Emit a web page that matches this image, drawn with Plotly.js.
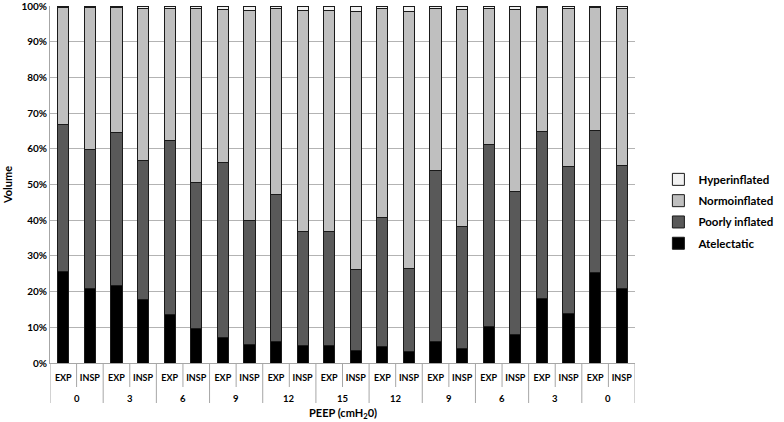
<!DOCTYPE html>
<html>
<head>
<meta charset="utf-8">
<script src="https://cdn.plot.ly/plotly-3.0.1.min.js"></script>
<style>html,body{margin:0;padding:0;background:#fff;}#chart{width:784px;height:422px;}</style>
</head>
<body>
<div id="chart"></div>
<script>
// Outer category (PEEP, cmH2O) and inner category (phase)
const peep = ["0","0","3","3","6","6","9","9","12","12","15","15",
              "12","12","9","9","6","6","3","3","0","0"];
const phase = ["EXP","INSP","EXP","INSP","EXP","INSP","EXP","INSP","EXP","INSP","EXP","INSP",
               "EXP","INSP","EXP","INSP","EXP","INSP","EXP","INSP","EXP","INSP"];

// Volume fractions (%)
const atelectatic   = [25.5,21.0,21.6,17.7,13.7,9.6,7.2,5.2,6.0,4.9,4.9,3.6,4.7,3.2,6.0,4.2,10.2,8.0,18.0,13.8,25.4,20.8];
const poorlyInflated= [41.2,38.8,43.1,39.0,48.6,40.9,49.0,34.6,41.2,31.8,31.8,22.7,36.0,23.3,47.8,33.9,50.9,40.0,46.9,41.2,39.8,34.6];
const normoinflated = [33.0,39.9,35.0,42.7,37.1,48.9,42.8,58.9,52.1,62.0,62.1,72.2,58.5,72.0,45.4,60.9,38.1,51.0,34.8,44.2,34.5,43.9];
const hyperinflated = [0.3,0.3,0.3,0.6,0.6,0.6,1.0,1.3,0.7,1.3,1.2,1.5,0.8,1.5,0.8,1.0,0.8,1.0,0.3,0.8,0.3,0.7];
const yTicks = [0,10,20,30,40,50,60,70,80,90,100];

const names = ["Atelectatic","Poorly inflated","Normoinflated","Hyperinflated"];
const colors = ["#000000","#595959","#bfbfbf","#f2f2f2"];
const series = [atelectatic, poorlyInflated, normoinflated, hyperinflated];

// unique category keys (one per bar), labelled with the phase
const keys = phase.map((p, i) => "c" + i + " " + peep[i] + " " + p);

const traces = series.map((vals, i) => ({
  type: "bar",
  name: names[i],
  legendgroup: "g" + i,
  legendrank: 10 - i,
  x: keys,
  y: vals,
  marker: {color: colors[i], line: {color: "#1a1a1a", width: 1}},
  hoverinfo: "y+name"
}));

const FONT = "Lato, Open Sans, sans-serif";
const T = 6, B = 59, H = 422 - T - B;
const px = v => -v / H;   // pixels below the x axis -> paper units
const AXC = "#a6a6a6";

// axis-table lines: short ones between every bar, long ones between PEEP groups
const shapes = [];
for (let i = 0; i <= keys.length; i++) {
  const groupEdge = (i === 0 || i === keys.length || peep[i] !== peep[i - 1] || phase[i] === "EXP");
  shapes.push({
    type: "line", xref: "x", yref: "paper",
    x0: i - 0.5, x1: i - 0.5, y0: 0, y1: px(groupEdge ? 40 : 24),
    line: {color: AXC, width: 1}
  });
}
// group labels
const annotations = [];
for (let i = 0; i < keys.length; i++) {
  if (i === 0 || peep[i] !== peep[i - 1] || phase[i] === "EXP") {
    let j = i;
    while (j + 1 < keys.length && peep[j + 1] === peep[i] && phase[j + 1] !== "EXP") j++;
    annotations.push({
      xref: "x", yref: "paper", x: (i + j) / 2, y: px(35), yanchor: "middle",
      text: peep[i], showarrow: false,
      font: {family: FONT, size: 9.5, color: "#000", weight: "bold"}
    });
  }
}
annotations.push({
  xref: "paper", yref: "paper", x: 0.5, y: px(50), yanchor: "middle",
  text: "PEEP (cmH<sub>2</sub>0)", showarrow: false,
  font: {family: FONT, size: 11, color: "#000", weight: "bold"}
});

const layout = {
  width: 784, height: 422,
  margin: {l: 50, r: 102, t: T, b: B},
  paper_bgcolor: "#fff", plot_bgcolor: "#fff",
  barmode: "stack",
  bargap: 0.58,
  font: {family: FONT, size: 10, color: "#000", weight: "bold"},
  showlegend: true,
  legend: {
    x: 1.04, xanchor: "left", y: 0.555, yanchor: "top",
    traceorder: "grouped",
    font: {family: FONT, size: 11.5, color: "#000", weight: "bold"},
    itemwidth: 30, tracegroupgap: 2.3,
    bgcolor: "rgba(0,0,0,0)"
  },
  xaxis: {
    type: "category",
    tickvals: keys, ticktext: phase,
    showline: true, linecolor: AXC, linewidth: 1,
    ticks: "", tickangle: 0, ticklabelstandoff: 6,
    tickfont: {family: FONT, size: 9, color: "#000", weight: "bold"},
    showgrid: false, zeroline: false,
    range: [-0.5, keys.length - 0.5],
    title: {text: ""}
  },
  yaxis: {
    range: [0, 100],
    tickvals: yTicks,
    ticktext: yTicks.map(v => v + "%"),
    ticklabeloverflow: "allow",
    showgrid: true, gridcolor: "#b3b3b3", gridwidth: 1,
    showline: true, linecolor: AXC, linewidth: 1,
    zeroline: false,
    ticks: "", tickfont: {family: FONT, size: 10, color: "#000", weight: "bold"},
    title: {text: "Volume", font: {family: FONT, size: 11, color: "#000", weight: "bold"}, standoff: 6}
  },
  shapes: shapes,
  annotations: annotations
};

Plotly.newPlot("chart", traces, layout, {displayModeBar: false, staticPlot: true});
</script>
</body>
</html>
